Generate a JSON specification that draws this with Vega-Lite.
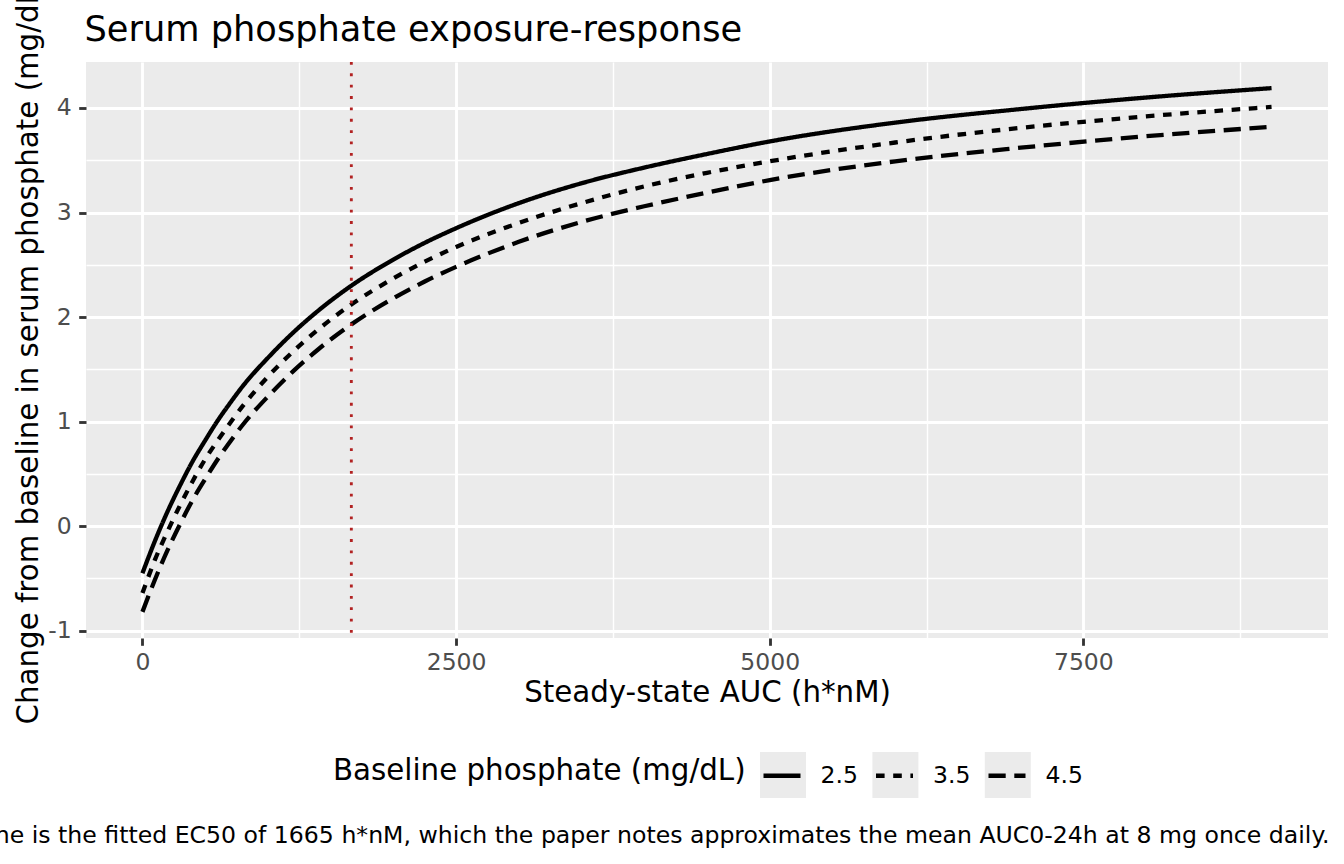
{
  "$schema": "https://vega.github.io/schema/vega-lite/v6.json",
  "width": 1242,
  "height": 576,
  "autosize": {"type": "none"},
  "padding": {"left": 86, "top": 62, "right": 16, "bottom": 226},
  "view": {"fill": "#EBEBEB", "stroke": null},
  "title": {
    "text": "Dotted line is the fitted EC50 of 1665 h*nM, which the paper notes approximates the mean AUC0-24h at 8 mg once daily.",
    "orient": "bottom",
    "anchor": "end",
    "frame": "group",
    "baseline": "top",
    "offset": 26,
    "dx": 1.5,
    "fontSize": 23.6,
    "fontWeight": "normal",
    "color": "black",
    "limit": 0
  },
  "config": {
    "font": "DejaVu Sans",
    "background": "white",
    "view": {"fill": "#EBEBEB", "stroke": null},
    "style": {"cell": {"fill": "#EBEBEB", "stroke": null}}
  },
  "layer": [
    {
      "data": {
        "values": [
          {"auc": 0, "change": -0.45, "baseline": "2.5"},
          {"auc": 100, "change": -0.14, "baseline": "2.5"},
          {"auc": 200, "change": 0.14, "baseline": "2.5"},
          {"auc": 300, "change": 0.39, "baseline": "2.5"},
          {"auc": 400, "change": 0.62, "baseline": "2.5"},
          {"auc": 500, "change": 0.82, "baseline": "2.5"},
          {"auc": 600, "change": 1.01, "baseline": "2.5"},
          {"auc": 700, "change": 1.18, "baseline": "2.5"},
          {"auc": 800, "change": 1.34, "baseline": "2.5"},
          {"auc": 1000, "change": 1.61, "baseline": "2.5"},
          {"auc": 1200, "change": 1.85, "baseline": "2.5"},
          {"auc": 1400, "change": 2.06, "baseline": "2.5"},
          {"auc": 1665, "change": 2.30, "baseline": "2.5"},
          {"auc": 2000, "change": 2.55, "baseline": "2.5"},
          {"auc": 2250, "change": 2.71, "baseline": "2.5"},
          {"auc": 2500, "change": 2.85, "baseline": "2.5"},
          {"auc": 3000, "change": 3.09, "baseline": "2.5"},
          {"auc": 3500, "change": 3.28, "baseline": "2.5"},
          {"auc": 4000, "change": 3.43, "baseline": "2.5"},
          {"auc": 4500, "change": 3.56, "baseline": "2.5"},
          {"auc": 5000, "change": 3.68, "baseline": "2.5"},
          {"auc": 6000, "change": 3.86, "baseline": "2.5"},
          {"auc": 7000, "change": 3.99, "baseline": "2.5"},
          {"auc": 8000, "change": 4.10, "baseline": "2.5"},
          {"auc": 9000, "change": 4.19, "baseline": "2.5"},
          {"auc": 0, "change": -0.64, "baseline": "3.5"},
          {"auc": 100, "change": -0.32, "baseline": "3.5"},
          {"auc": 200, "change": -0.05, "baseline": "3.5"},
          {"auc": 300, "change": 0.20, "baseline": "3.5"},
          {"auc": 400, "change": 0.43, "baseline": "3.5"},
          {"auc": 500, "change": 0.64, "baseline": "3.5"},
          {"auc": 600, "change": 0.82, "baseline": "3.5"},
          {"auc": 700, "change": 0.99, "baseline": "3.5"},
          {"auc": 800, "change": 1.15, "baseline": "3.5"},
          {"auc": 1000, "change": 1.43, "baseline": "3.5"},
          {"auc": 1200, "change": 1.67, "baseline": "3.5"},
          {"auc": 1400, "change": 1.88, "baseline": "3.5"},
          {"auc": 1665, "change": 2.12, "baseline": "3.5"},
          {"auc": 2000, "change": 2.37, "baseline": "3.5"},
          {"auc": 2250, "change": 2.53, "baseline": "3.5"},
          {"auc": 2500, "change": 2.67, "baseline": "3.5"},
          {"auc": 3000, "change": 2.90, "baseline": "3.5"},
          {"auc": 3500, "change": 3.09, "baseline": "3.5"},
          {"auc": 4000, "change": 3.25, "baseline": "3.5"},
          {"auc": 4500, "change": 3.38, "baseline": "3.5"},
          {"auc": 5000, "change": 3.49, "baseline": "3.5"},
          {"auc": 6000, "change": 3.67, "baseline": "3.5"},
          {"auc": 7000, "change": 3.81, "baseline": "3.5"},
          {"auc": 8000, "change": 3.92, "baseline": "3.5"},
          {"auc": 9000, "change": 4.01, "baseline": "3.5"},
          {"auc": 0, "change": -0.82, "baseline": "4.5"},
          {"auc": 100, "change": -0.51, "baseline": "4.5"},
          {"auc": 200, "change": -0.23, "baseline": "4.5"},
          {"auc": 300, "change": 0.02, "baseline": "4.5"},
          {"auc": 400, "change": 0.25, "baseline": "4.5"},
          {"auc": 500, "change": 0.45, "baseline": "4.5"},
          {"auc": 600, "change": 0.64, "baseline": "4.5"},
          {"auc": 700, "change": 0.81, "baseline": "4.5"},
          {"auc": 800, "change": 0.97, "baseline": "4.5"},
          {"auc": 1000, "change": 1.24, "baseline": "4.5"},
          {"auc": 1200, "change": 1.48, "baseline": "4.5"},
          {"auc": 1400, "change": 1.69, "baseline": "4.5"},
          {"auc": 1665, "change": 1.93, "baseline": "4.5"},
          {"auc": 2000, "change": 2.18, "baseline": "4.5"},
          {"auc": 2250, "change": 2.34, "baseline": "4.5"},
          {"auc": 2500, "change": 2.48, "baseline": "4.5"},
          {"auc": 3000, "change": 2.72, "baseline": "4.5"},
          {"auc": 3500, "change": 2.91, "baseline": "4.5"},
          {"auc": 4000, "change": 3.06, "baseline": "4.5"},
          {"auc": 4500, "change": 3.19, "baseline": "4.5"},
          {"auc": 5000, "change": 3.31, "baseline": "4.5"},
          {"auc": 6000, "change": 3.49, "baseline": "4.5"},
          {"auc": 7000, "change": 3.62, "baseline": "4.5"},
          {"auc": 8000, "change": 3.73, "baseline": "4.5"},
          {"auc": 9000, "change": 3.82, "baseline": "4.5"}
        ]
      },
      "mark": {
        "type": "line",
        "color": "black",
        "strokeWidth": 4.3,
        "strokeCap": "butt",
        "interpolate": "monotone"
      },
      "encoding": {
        "x": {
          "field": "auc",
          "type": "quantitative",
          "scale": {"domain": [-450, 9450], "nice": false, "zero": false},
          "axis": {
            "title": "Steady-state AUC (h*nM)",
            "titleFontSize": 29.3,
            "titleFontWeight": "normal",
            "titleColor": "black",
            "titleBaseline": "alphabetic",
            "titleY": 63,
            "values": [0, 1250, 2500, 3750, 5000, 6250, 7500, 8750],
            "labelExpr": "datum.value % 2500 === 0 ? '' + datum.value : ''",
            "labelFontSize": 23.5,
            "labelColor": "#4D4D4D",
            "labelPadding": 5.4,
            "labelFlush": false,
            "labelOverlap": false,
            "domain": false,
            "grid": true,
            "gridColor": "white",
            "gridWidth": {"condition": {"test": "datum.value % 2500 === 0", "value": 2.84}, "value": 1.42},
            "ticks": true,
            "tickColor": "#333333",
            "tickWidth": 2.84,
            "tickSize": 7.3,
            "tickOpacity": {"condition": {"test": "datum.value % 2500 === 0", "value": 1}, "value": 0}
          }
        },
        "y": {
          "field": "change",
          "type": "quantitative",
          "scale": {"domain": [-1.07, 4.44], "nice": false, "zero": false},
          "axis": {
            "title": "Change from baseline in serum phosphate (mg/dL)",
            "titleFontSize": 29.3,
            "titleFontWeight": "normal",
            "titleColor": "black",
            "titleAngle": 270,
            "titleAlign": "center",
            "titleBaseline": "alphabetic",
            "titleX": -48.5,
            "titleY": 288,
            "titleLimit": 0,
            "values": [-1, -0.5, 0, 0.5, 1, 1.5, 2, 2.5, 3, 3.5, 4],
            "labelExpr": "datum.value % 1 === 0 ? '' + datum.value : ''",
            "labelFontSize": 23.5,
            "labelColor": "#4D4D4D",
            "labelPadding": 7.5,
            "labelFlush": false,
            "labelOverlap": false,
            "domain": false,
            "grid": true,
            "gridColor": "white",
            "gridWidth": {"condition": {"test": "datum.value % 1 === 0", "value": 2.84}, "value": 1.42},
            "ticks": true,
            "tickColor": "#333333",
            "tickWidth": 2.84,
            "tickSize": 7.3,
            "tickOpacity": {"condition": {"test": "datum.value % 1 === 0", "value": 1}, "value": 0}
          }
        },
        "strokeDash": {
          "field": "baseline",
          "type": "nominal",
          "scale": {
            "domain": ["2.5", "3.5", "4.5"],
            "range": [[1, 0], [8.6, 8.6], [17.2, 8.6]]
          },
          "legend": {
            "title": "Baseline phosphate (mg/dL)",
            "orient": "none",
            "legendX": 247,
            "legendY": 692.5,
            "direction": "horizontal",
            "titleOrient": "left",
            "titleAnchor": "middle",
            "titleBaseline": "middle",
            "titleFontSize": 29.3,
            "titleFontWeight": "normal",
            "titleColor": "black",
            "titleLimit": 0,
            "titlePadding": 15,
            "symbolType": "stroke",
            "symbolSize": 1369,
            "symbolStrokeWidth": 4.3,
            "symbolStrokeColor": "black",
            "labelFontSize": 23.5,
            "labelColor": "black",
            "labelOffset": 17.5,
            "columnPadding": 8.5,
            "padding": 0,
            "zindex": 1
          }
        }
      }
    },
    {
      "data": {"values": [{"ec50": 1665}]},
      "mark": {
        "type": "rule",
        "color": "firebrick",
        "strokeWidth": 2.84,
        "strokeDash": [2.84, 8.52]
      },
      "encoding": {
        "x": {
          "field": "ec50",
          "type": "quantitative",
          "axis": {
            "orient": "top",
            "title": "Serum phosphate exposure-response",
            "titleFontSize": 35.2,
            "titleFontWeight": "normal",
            "titleColor": "black",
            "titleAnchor": "start",
            "titleAlign": "left",
            "titleBaseline": "alphabetic",
            "titleX": -2,
            "titleY": -22,
            "titleLimit": 0,
            "labels": false,
            "ticks": false,
            "domain": false,
            "grid": false
          }
        }
      }
    },
    {
      "data": {"values": [{"key": "2.5"}, {"key": "3.5"}, {"key": "4.5"}]},
      "mark": {"type": "point", "filled": true, "shape": "square", "opacity": 0},
      "encoding": {
        "fill": {
          "field": "key",
          "type": "nominal",
          "scale": {"range": ["#EBEBEB", "#EBEBEB", "#EBEBEB"]},
          "legend": {
            "title": null,
            "orient": "none",
            "legendX": 674,
            "legendY": 690,
            "direction": "horizontal",
            "symbolType": "square",
            "symbolSize": 2116,
            "symbolStrokeWidth": 0,
            "symbolOpacity": 1,
            "labelFontSize": 1,
            "labelOpacity": 0,
            "labelOffset": 0,
            "columnPadding": 64.4,
            "padding": 0,
            "zindex": 0
          }
        }
      }
    }
  ],
  "resolve": {"axis": {"x": "independent"}}
}
